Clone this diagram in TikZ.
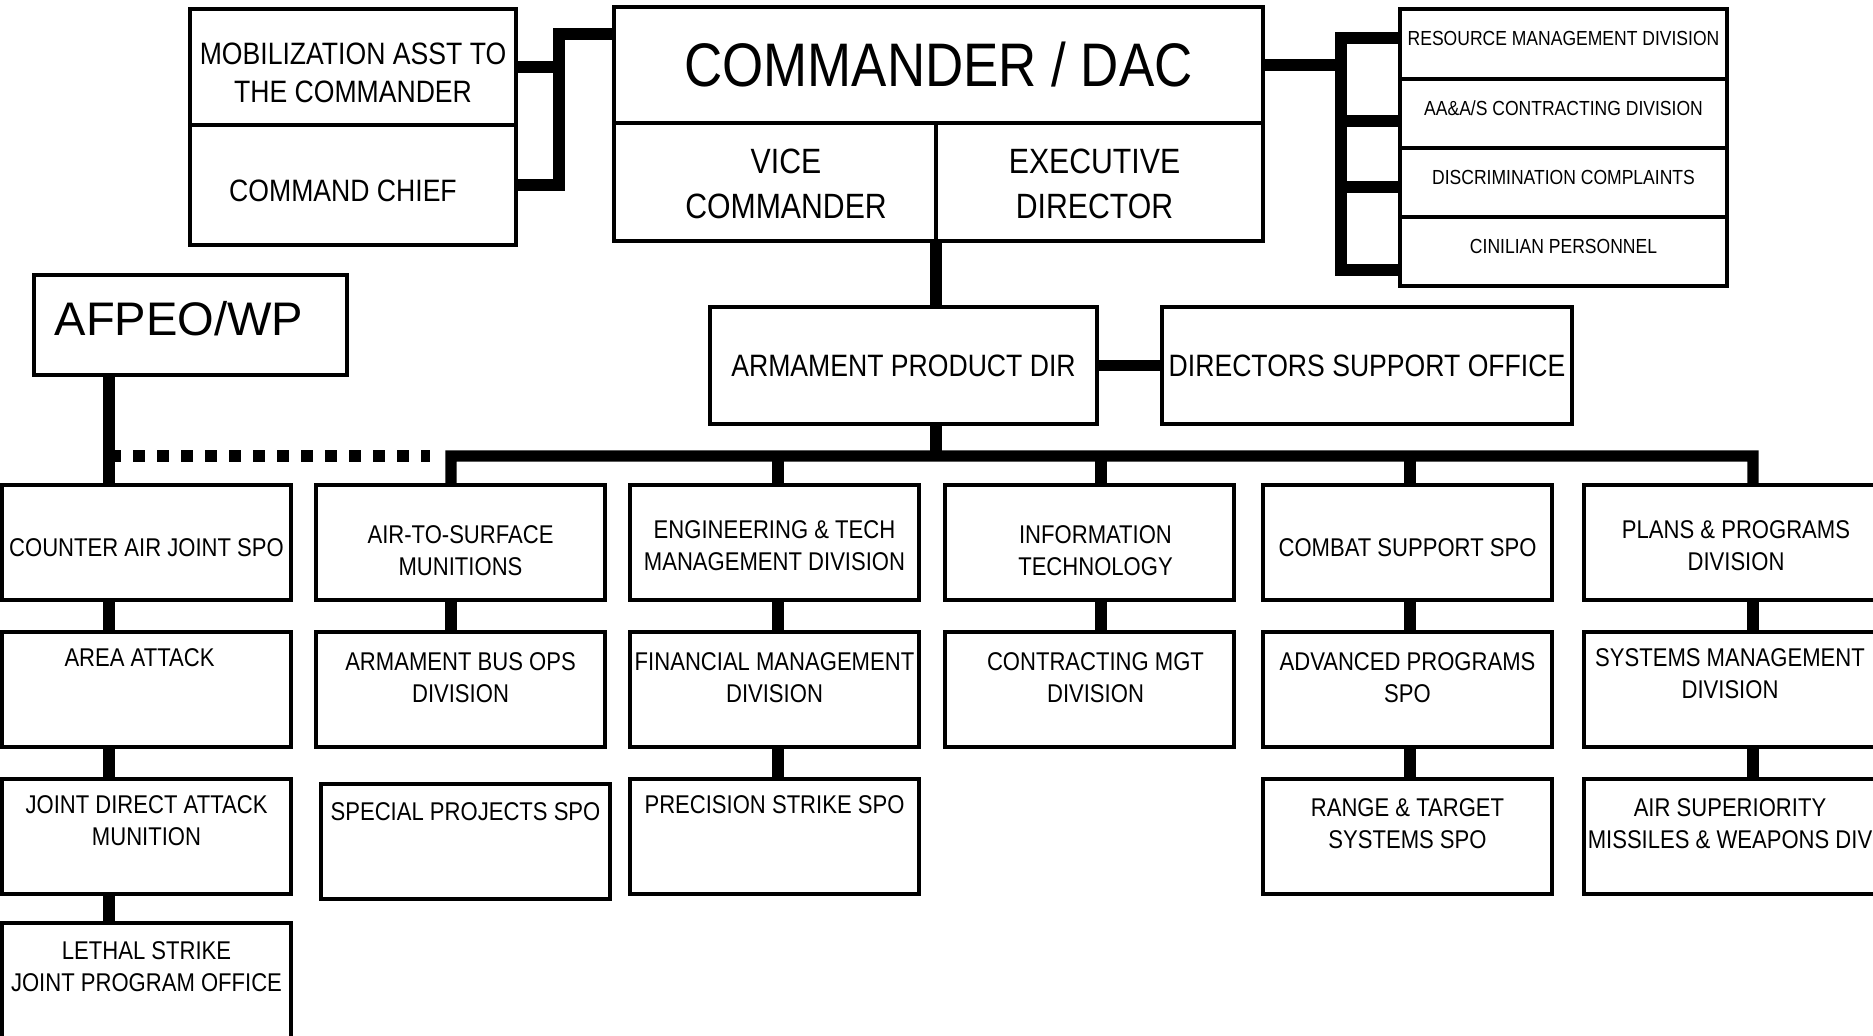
\documentclass[tikz,border=0pt]{standalone}
\usepackage{fontspec}
\setmainfont{Liberation Sans}[FakeStretch=0.86]
\newfontfamily\widefont{Liberation Sans}
\usepackage{tikz}
\usetikzlibrary{calc,positioning}
\tikzset{
  conn/.style={line width=3.2pt},
  dotconn/.style={line width=3.4pt, dash pattern=on 1.2mm off 1.2mm},
  box/.style={draw, line width=1pt, fill=white, align=center, inner sep=0pt, outer sep=0pt},
  unitbox/.style={box, minimum width=2.89cm, minimum height=1.15cm, font=\fontsize{7.3}{9}\selectfont},
  sidebox/.style={box, minimum width=3.27cm, minimum height=0.69cm, font=\fontsize{5.8}{7}\selectfont,
    text height=4.2pt, text depth=3.1pt},
  lbl/.style={align=center, inner sep=0pt, font=\fontsize{7.3}{9}\selectfont},
  toplbl/.style={lbl, font=\fontsize{8.8}{10.8}\selectfont},
  vplbl/.style={lbl, font=\fontsize{10}{12.7}\selectfont}
}
\begin{document}
\begin{tikzpicture}
  \useasboundingbox (0,0) rectangle (18.73,-10.35);
  % front office
  \node[box, anchor=north west, minimum width=3.26cm, minimum height=1.16cm] (mob) at (1.90,-0.09) {};
  \node[box, below=0pt of mob, minimum width=3.26cm, minimum height=1.20cm] (chief) {};
  \node[toplbl, yshift=-0.55mm] (mobT) at (mob) {MOBILIZATION ASST TO\\THE COMMANDER};
  \node[toplbl, xshift=-1mm, yshift=-0.6mm] (chiefT) at (chief) {COMMAND CHIEF};
  \node[box, anchor=north west, minimum width=6.49cm, minimum height=1.16cm, font=\fontsize{17.5}{21}\selectfont]
    (cmd) at (6.14,-0.07) {COMMANDER / DAC};
  \node[box, anchor=north west, minimum width=3.22cm, minimum height=1.18cm] (vice) at (cmd.south west) {};
  \node[box, right=0pt of vice, minimum width=3.27cm, minimum height=1.18cm] (exec) {};
  \node[vplbl, xshift=1.1mm, yshift=-0.2mm] (viceT) at (vice) {VICE\\COMMANDER};
  \node[vplbl, xshift=-0.5mm, yshift=-0.2mm] (execT) at (exec) {EXECUTIVE\\DIRECTOR};
  \node[sidebox, anchor=north west, minimum height=0.70cm] (res) at (14.00,-0.09) {RESOURCE MANAGEMENT DIVISION};
  \node[sidebox, below=0pt of res] (acq) {AA\&A/S CONTRACTING DIVISION};
  \node[sidebox, below=0pt of acq] (disc) {DISCRIMINATION COMPLAINTS};
  \node[sidebox, below=0pt of disc] (civ) {CINILIAN PERSONNEL};

  \node[box, anchor=north west, minimum width=3.13cm, minimum height=1.00cm] (afpeo) at (0.34,-2.75) {};
  \node[anchor=west, inner sep=0pt, font=\widefont\fontsize{13.4}{16}\selectfont]
    (afpeoT) at ([xshift=2mm,yshift=0.6mm]afpeo.west) {AFPEO/WP};
  \node[box, anchor=north west, minimum width=3.87cm, minimum height=1.17cm, font=\fontsize{8.8}{10.6}\selectfont]
    (apd) at (7.10,-3.07) {ARMAMENT PRODUCT DIR};
  \node[box, right=6.5mm of apd, minimum width=4.10cm, minimum height=1.17cm, font=\fontsize{8.8}{10.6}\selectfont]
    (dso) {DIRECTORS SUPPORT OFFICE};

  % first row of divisions
  \node[unitbox, anchor=north west] (ca) at (0.02,-4.85) {};
  \node[unitbox, right=2.5mm of ca] (ats) {};
  \node[unitbox, right=2.5mm of ats] (eng) {};
  \node[unitbox, right=2.6mm of eng] (info) {};
  \node[unitbox, right=2.9mm of info] (cbt) {};
  \node[unitbox, right=3.2mm of cbt, minimum width=2.92cm] (plans) {};
  \node[lbl, yshift=-0.5mm] (caT) at (ca) {COUNTER AIR JOINT SPO};
  \node[lbl, yshift=-0.8mm] (atsT) at (ats) {AIR-TO-SURFACE\\MUNITIONS};
  \node[lbl, yshift=-0.3mm] (engT) at (eng) {ENGINEERING \& TECH\\MANAGEMENT DIVISION};
  \node[lbl, xshift=0.6mm, yshift=-0.8mm] (infoT) at (info) {INFORMATION\\TECHNOLOGY};
  \node[lbl, yshift=-0.5mm] (cbtT) at (cbt) {COMBAT SUPPORT SPO};
  \node[lbl, xshift=0.6mm, yshift=-0.3mm] (plansT) at (plans) {PLANS \& PROGRAMS\\DIVISION};

  % lower boxes, text near the top
  \node[unitbox, below=3.2mm of ca] (area) {};
  \node[unitbox, below=3.2mm of area] (jdam) {};
  \node[unitbox, below=2.9mm of jdam] (lethal) {};
  \node[unitbox, below=3.2mm of ats] (abo) {};
  \node[unitbox, below=3.7mm of abo, xshift=0.5mm] (sps) {};
  \node[unitbox, below=3.2mm of eng] (fin) {};
  \node[unitbox, below=3.2mm of fin] (pss) {};
  \node[unitbox, below=3.2mm of info] (cmg) {};
  \node[unitbox, below=3.2mm of cbt] (adv) {};
  \node[unitbox, below=3.2mm of adv] (rng) {};
  \node[unitbox, below=3.2mm of plans, minimum width=2.92cm] (sys) {};
  \node[unitbox, below=3.2mm of sys, minimum width=2.92cm] (air) {};

  \node[lbl, below=1.6mm of area.north, xshift=-0.7mm] (areaT) {AREA ATTACK};
  \node[lbl, below=1.6mm of jdam.north] (jdamT) {JOINT DIRECT ATTACK\\MUNITION};
  \node[lbl, below=1.8mm of lethal.north] (lethalT) {LETHAL STRIKE\\JOINT PROGRAM OFFICE};
  \node[lbl, below=2.0mm of abo.north] (aboT) {ARMAMENT BUS OPS\\DIVISION};
  \node[lbl, below=1.8mm of sps.north] (spsT) {SPECIAL PROJECTS SPO};
  \node[lbl, below=2.0mm of fin.north] (finT) {FINANCIAL MANAGEMENT\\DIVISION};
  \node[lbl, below=1.6mm of pss.north] (pssT) {PRECISION STRIKE SPO};
  \node[lbl, below=2.0mm of cmg.north, xshift=0.6mm] (cmgT) {CONTRACTING MGT\\DIVISION};
  \node[lbl, below=2.0mm of adv.north] (advT) {ADVANCED PROGRAMS\\SPO};
  \node[lbl, below=1.9mm of rng.north] (rngT) {RANGE \& TARGET\\SYSTEMS SPO};
  \node[lbl, below=1.6mm of sys.north] (sysT) {SYSTEMS MANAGEMENT\\DIVISION};
  \node[lbl, below=1.9mm of air.north] (airT) {AIR SUPERIORITY\\MISSILES \& WEAPONS DIV};

  % connectors
  \coordinate (lb) at ([xshift=4.3mm]mob.east);
  \draw[conn] ([yshift=-2.7mm]cmd.north west) -| (lb |- chief.east) -- (chief.east);
  \draw[conn] (mob.east) -- (lb);
  \coordinate (rb) at ([xshift=-5.9mm]res.west);
  \draw[conn] (cmd.east) -- (cmd.east -| rb);
  \draw[conn] ([yshift=0.6mm]res.west) -| ++(-0.59,-2.32) -- ++(0.59,0);
  \draw[conn] ([yshift=-0.75mm]acq.west) -- ++(-0.59,0);
  \draw[conn] ([yshift=-0.45mm]disc.west) -- ++(-0.59,0);

  \draw[conn] (vice.south east) -- (vice.south east |- apd.north);
  \draw[conn] (apd.east) -- (dso.west);
  \coordinate (busL) at ($(ats.north)+(-0.095,0.29)$);
  \draw[conn] (vice.south east |- apd.south) -- (vice.south east |- busL);
  \draw[conn] ([xshift=-0.95mm]ats.north) -- (busL) -| ([xshift=2.3mm]plans.north);
  \draw[conn] ([xshift=0.35mm]eng.north) -- ++(0,0.29);
  \draw[conn] ([xshift=1.15mm]info.north) -- ++(0,0.29);
  \draw[conn] ([xshift=0.25mm]cbt.north) -- ++(0,0.29);

  \coordinate (av) at ([xshift=-8.15mm]afpeo.south);
  \draw[conn] (av) -- (av |- ca.north);
  \draw[dotconn] (av |- busL) -- ([xshift=-2.1mm]busL);

  \draw[conn] ([xshift=-3.75mm]ca.south) -- ([xshift=-3.75mm]area.north);
  \draw[conn] ([xshift=-3.75mm]area.south) -- ([xshift=-3.75mm]jdam.north);
  \draw[conn] ([xshift=-3.75mm]jdam.south) -- ([xshift=-3.75mm]lethal.north);
  \draw[conn] ([xshift=-0.95mm]ats.south) -- ([xshift=-0.95mm]abo.north);
  \draw[conn] ([xshift=0.35mm]eng.south) -- ([xshift=0.35mm]fin.north);
  \draw[conn] ([xshift=0.35mm]fin.south) -- ([xshift=0.35mm]pss.north);
  \draw[conn] ([xshift=1.15mm]info.south) -- ([xshift=1.15mm]cmg.north);
  \draw[conn] ([xshift=0.25mm]cbt.south) -- ([xshift=0.25mm]adv.north);
  \draw[conn] ([xshift=0.25mm]adv.south) -- ([xshift=0.25mm]rng.north);
  \draw[conn] ([xshift=2.3mm]plans.south) -- ([xshift=2.3mm]sys.north);
  \draw[conn] ([xshift=2.3mm]sys.south) -- ([xshift=2.3mm]air.north);
\end{tikzpicture}
\end{document}
